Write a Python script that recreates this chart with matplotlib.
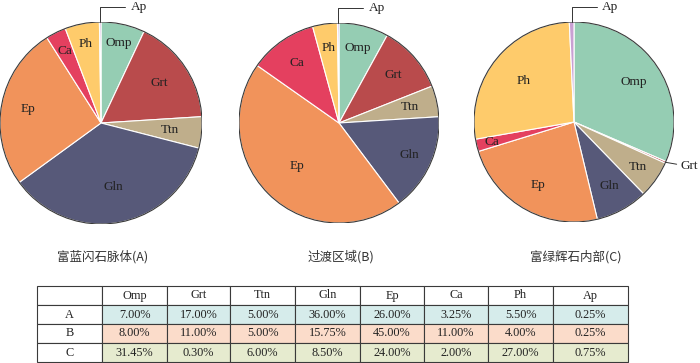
import matplotlib
matplotlib.use('Agg')
import matplotlib.pyplot as plt
import numpy as np

# minerals and modal proportions (%)
minerals = ['Omp', 'Grt', 'Ttn', 'Gln', 'Ep', 'Ca', 'Ph', 'Ap']
vals_a = [7.00, 17.00, 5.00, 36.00, 26.00, 3.25, 5.50, 0.25]
vals_b = [8.00, 11.00, 5.00, 15.75, 45.00, 11.00, 4.00, 0.25]
vals_c = [31.45, 0.30, 6.00, 8.50, 24.00, 2.00, 27.00, 0.75]
row_names = ['A', 'B', 'C']
titles = ['富蓝闪石脉体(A)', '过渡区域(B)', '富绿辉石内部(C)']

colors = ['#95CDB3', '#B94B4C', '#BFAE8B', '#575979', '#F1935B',
          '#E4405F', '#FECB6B', '#C9A0D3']
row_colors = ['#D6ECEB', '#FBDCCA', '#E6EBCF']

W, H = 700, 363
fig = plt.figure(figsize=(7, 3.63), dpi=100)

serif = ['Liberation Serif', 'DejaVu Serif']
cjk = ['Noto Sans CJK SC', 'DejaVu Sans']

# pie centres / radius in pixels
pies = [(101, 123, 101), (339, 123, 100), (574, 122, 100)]
# label radius (fraction of r) for each mineral, per pie
lab_r = [
    [0.81, 0.70, 0.69, 0.65, 0.74, 0.80, 0.80, None],
    [0.77, 0.72, 0.73, 0.77, 0.60, 0.73, 0.76, None],
    [0.72, None, 0.78, 0.73, 0.72, 0.84, 0.65, None],
]

for k, vals in enumerate([vals_a, vals_b, vals_c]):
    cx, cy, r = pies[k]
    ax = fig.add_axes([(cx - r) / W, (H - cy - r) / H, 2 * r / W, 2 * r / H])
    wedges, _ = ax.pie(vals, colors=colors, startangle=90, counterclock=False,
                       wedgeprops=dict(edgecolor='white', linewidth=0.8))
    ax.add_patch(plt.Circle((0, 0), 1, fill=False, edgecolor='#3a3a3a', lw=0.8))
    ax.set_xlim(-1, 1)
    ax.set_ylim(-1, 1)
    ax.set_aspect('auto')
    ax.axis('off')

    for i, w in enumerate(wedges):
        mid = np.deg2rad((w.theta1 + w.theta2) / 2)
        rr = lab_r[k][i]
        if rr is not None:
            ax.text(rr * np.cos(mid), rr * np.sin(mid), minerals[i],
                    ha='center', va='center', fontsize=9.5, family=serif,
                    color='#222222')

    # Ap leader line
    w = wedges[-1]
    mid = np.deg2rad((w.theta1 + w.theta2) / 2)
    ax.annotate('Ap', xy=(np.cos(mid), np.sin(mid)), xytext=(22, 11),
                textcoords='offset points', ha='left', va='center',
                fontsize=9.5, family=serif, color='#222222',
                arrowprops=dict(arrowstyle='-', color='#333333', lw=0.7,
                                connectionstyle='angle,angleA=0,angleB=90,rad=0',
                                shrinkA=2, shrinkB=0),
                annotation_clip=False)
    if k == 2:
        w = wedges[1]
        mid = np.deg2rad((w.theta1 + w.theta2) / 2)
        ax.annotate('Grt', xy=(np.cos(mid), np.sin(mid)), xytext=(11, -3),
                    textcoords='offset points', ha='left', va='center',
                    fontsize=9.5, family=serif, color='#222222',
                    arrowprops=dict(arrowstyle='-', color='#333333', lw=0.7,
                                    shrinkA=1, shrinkB=0),
                    annotation_clip=False)

    fig.text((cx + 2) / W, 1 - 257 / H, titles[k], ha='center', va='center',
             fontsize=9, family=cjk, color='#333333')

# table
tab_ax = fig.add_axes([37 / W, 1 - 362 / H, 591 / W, 76 / H])
tab_ax.axis('off')
cell_text = [[''] + minerals]
for name, vals in zip(row_names, [vals_a, vals_b, vals_c]):
    cell_text.append([name] + ['%.2f%%' % v for v in vals])
col_w = [65, 65, 63, 65, 65, 64, 64, 65, 75]
col_w = [c / sum(col_w) for c in col_w]
tbl = tab_ax.table(cellText=cell_text, colWidths=col_w, cellLoc='center',
                   bbox=[0, 0, 1, 1])
tbl.auto_set_font_size(False)
for (i, j), cell in tbl.get_celld().items():
    cell.set_edgecolor('#3a3a3a')
    cell.set_linewidth(0.8)
    cell.get_text().set_fontsize(8.8)
    cell.get_text().set_family(serif)
    cell.get_text().set_color('#222222')
    if i >= 1 and j >= 1:
        cell.set_facecolor(row_colors[i - 1])

fig.savefig('out.png', dpi=100)
